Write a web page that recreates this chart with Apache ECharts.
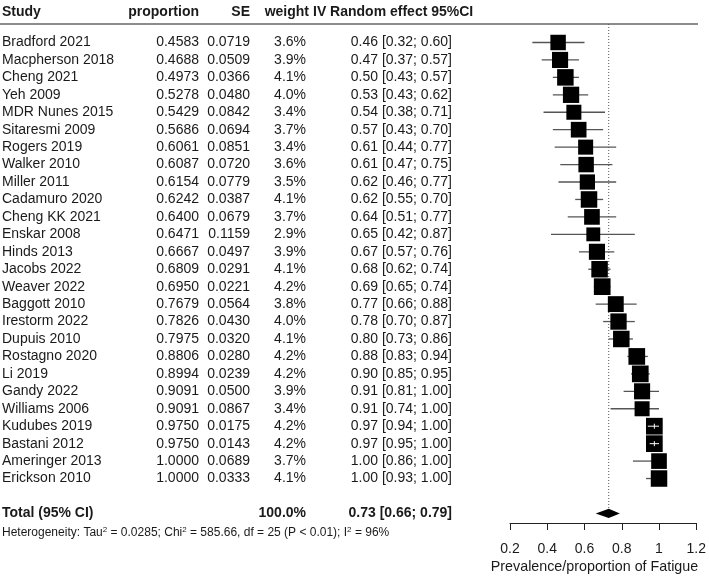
<!DOCTYPE html>
<html><head><meta charset="utf-8">
<script src="https://cdn.jsdelivr.net/npm/echarts@6/dist/echarts.min.js"></script>
<style>html,body{margin:0;padding:0;background:#fff}#c{width:709px;height:576px}</style>
</head><body><div id="c"></div>
<script>
const studies = ["Bradford 2021","Macpherson 2018","Cheng 2021","Yeh 2009","MDR Nunes 2015","Sitaresmi 2009","Rogers 2019","Walker 2010","Miller 2011","Cadamuro 2020","Cheng KK 2021","Enskar 2008","Hinds 2013","Jacobs 2022","Weaver 2022","Baggott 2010","Irestorm 2022","Dupuis 2010","Rostagno 2020","Li 2019","Gandy 2022","Williams 2006","Kudubes 2019","Bastani 2012","Ameringer 2013","Erickson 2010"];
const proportion = [0.4583,0.4688,0.4973,0.5278,0.5429,0.5686,0.6061,0.6087,0.6154,0.6242,0.6400,0.6471,0.6667,0.6809,0.6950,0.7679,0.7826,0.7975,0.8806,0.8994,0.9091,0.9091,0.9750,0.9750,1.0000,1.0000];
const se = [0.0719,0.0509,0.0366,0.0480,0.0842,0.0694,0.0851,0.0720,0.0779,0.0387,0.0679,0.1159,0.0497,0.0291,0.0221,0.0564,0.0430,0.0320,0.0280,0.0239,0.0500,0.0867,0.0175,0.0143,0.0689,0.0333];
const weight = [3.6,3.9,4.1,4.0,3.4,3.7,3.4,3.6,3.5,4.1,3.7,2.9,3.9,4.1,4.2,3.8,4.0,4.1,4.2,4.2,3.9,3.4,4.2,4.2,3.7,4.1];
const effect = [0.46,0.47,0.50,0.53,0.54,0.57,0.61,0.61,0.62,0.62,0.64,0.65,0.67,0.68,0.69,0.77,0.78,0.80,0.88,0.90,0.91,0.91,0.97,0.97,1.00,1.00];
const lower = [0.32,0.37,0.43,0.43,0.38,0.43,0.44,0.47,0.46,0.55,0.51,0.42,0.57,0.62,0.65,0.66,0.70,0.73,0.83,0.85,0.81,0.74,0.94,0.95,0.86,0.93];
const upper = [0.60,0.57,0.57,0.62,0.71,0.70,0.77,0.75,0.77,0.70,0.77,0.87,0.76,0.74,0.74,0.88,0.87,0.86,0.94,0.95,1.00,1.00,1.00,1.00,1.00,1.00];
const totalEffect = 0.73, totalLower = 0.66, totalUpper = 0.79, totalWeight = 100.0;
const xTicks = [0.2,0.4,0.6,0.8,1.0,1.2];
const headers = ["Study","proportion","SE","weight","IV Random effect 95%CI"];
const totalLabel = "Total (95% CI)";
const hetero = {tau2:"0.0285", chi2:"585.66", df:"25", p:"P < 0.01", i2:"96%"};
const axisTitle = "Prevalence/proportion of Fatigue";

const FONT = "'Liberation Sans', Arial, Helvetica, sans-serif";
const TXT = '#1a1a1a';
const ROW_TOTAL = studies.length + 1;
const ROW_HET = ROW_TOTAL + 1.09;
const ROW_HEAD = -1.72;
const COL = {study:2, prop:199, se:250, weight:306, ci:452, head:313};

const chart = echarts.init(document.getElementById('c'), null, {renderer:'canvas'});

function txt(text, x, y, align, bold, size){
  return {type:'text', style:{text:text, x:x, y:y, textAlign:align, textVerticalAlign:'middle',
    font:(bold?'bold ':'')+(size||14)+'px '+FONT, fill:TXT}};
}

const tableData = studies.map((s,i)=>[0.2, i]);
tableData.push([0.2, ROW_TOTAL]);
tableData.push([0.2, ROW_HEAD]);

const boxData = proportion.map((p,i)=>[p, i, lower[i], upper[i], weight[i]]);

const option = {
  animation:false,
  backgroundColor:'#fff',
  grid:{left:510, right:11, top:24, bottom:53},
  xAxis:{type:'value', min:0.2, max:1.2, interval:0.2, position:'bottom',
    axisLine:{show:true, onZero:false, lineStyle:{color:'#222', width:1}},
    axisTick:{show:true, length:7, inside:false, lineStyle:{color:'#222'}},
    axisLabel:{margin:19, fontSize:14, color:TXT, fontFamily:FONT,
      formatter:v=>{ const t = xTicks.find(k=>Math.abs(k-v)<1e-9); return t===undefined?'':String(+t.toFixed(1)); }},
    splitLine:{show:false}},
  yAxis:{type:'value', inverse:true, min:-1.06, max:27.55, show:false},
  graphic:[
    {type:'line', shape:{x1:0,y1:24,x2:698,y2:24}, style:{stroke:'#666', lineWidth:1.5}},
    {type:'text', style:{text:axisTitle, x:594.5, y:567, textAlign:'center', textVerticalAlign:'middle', font:'14.3px '+FONT, fill:TXT}}
  ],
  series:[
    { // dotted reference line + diamond
      type:'custom', data:[[totalEffect, ROW_TOTAL, totalLower, totalUpper]], silent:true, z:1,
      renderItem:(params, api)=>{
        const c = api.coord([api.value(0), api.value(1)]);
        const lo = api.coord([api.value(2), api.value(1)]);
        const hi = api.coord([api.value(3), api.value(1)]);
        const top = api.coord([api.value(0), -1.06]);
        const h = 4.7;
        return {type:'group', children:[
          {type:'line', shape:{x1:c[0], y1:top[1], x2:c[0], y2:c[1]-h}, style:{stroke:'#555', lineWidth:1, lineDash:[1,2]}},
          {type:'polygon', shape:{points:[[lo[0],c[1]],[c[0],c[1]-h],[hi[0],c[1]],[c[0],c[1]+h]]}, style:{fill:'#000'}}
        ]};
      }
    },
    { // study boxes + CI lines
      type:'custom', data:boxData, silent:true, z:2,
      renderItem:(params, api)=>{
        const row = api.value(1);
        const c = api.coord([api.value(0), row]);
        const lo = api.coord([api.value(2), row]);
        const hi = api.coord([api.value(3), row]);
        const s = 16.7*Math.sqrt(api.value(4)/4.2);
        const inside = lo[0] >= c[0]-s/2 && hi[0] <= c[0]+s/2;
        const ch = [
          {type:'line', shape:{x1:lo[0],y1:c[1],x2:hi[0],y2:c[1]}, style:{stroke:'#555', lineWidth:1.3}},
          {type:'rect', shape:{x:c[0]-s/2, y:c[1]-s/2, width:s, height:s}, style:{fill:'#000'}}
        ];
        if(inside){
          ch.push({type:'line', shape:{x1:lo[0],y1:c[1],x2:hi[0],y2:c[1]}, style:{stroke:'#fff', lineWidth:1}});
          ch.push({type:'line', shape:{x1:c[0],y1:c[1]-2.5,x2:c[0],y2:c[1]+2.5}, style:{stroke:'#fff', lineWidth:1}});
        }
        return {type:'group', children:ch};
      }
    },
    { // table text
      type:'custom', data:tableData, silent:true, z:3,
      renderItem:(params, api)=>{
        const i = params.dataIndex;
        const y = api.coord([0.2, api.value(1)])[1];
        if(i < studies.length){
          return {type:'group', children:[
            txt(studies[i], COL.study, y, 'left'),
            txt(proportion[i].toFixed(4), COL.prop, y, 'right'),
            txt(se[i].toFixed(4), COL.se, y, 'right'),
            txt(weight[i].toFixed(1)+'%', COL.weight, y, 'right'),
            txt(effect[i].toFixed(2)+' ['+lower[i].toFixed(2)+'; '+upper[i].toFixed(2)+']', COL.ci, y, 'right')
          ]};
        } else if(i === studies.length){
          const yh = api.coord([0.2, ROW_HET])[1];
          return {type:'group', children:[
            txt(totalLabel, COL.study, y, 'left', true),
            txt(totalWeight.toFixed(1)+'%', COL.weight, y, 'right', true),
            txt(totalEffect.toFixed(2)+' ['+totalLower.toFixed(2)+'; '+totalUpper.toFixed(2)+']', COL.ci, y, 'right', true),
            {type:'text', style:{
              text:'Heterogeneity: Tau{s|2} = '+hetero.tau2+'; Chi{s|2} = '+hetero.chi2+', df = '+hetero.df+' ('+hetero.p+'); I{s|2} = '+hetero.i2,
              x:COL.study, y:yh, textAlign:'left', textVerticalAlign:'middle', font:'12px '+FONT, fill:TXT,
              rich:{s:{fontSize:8, fontFamily:FONT, fill:TXT, verticalAlign:'top', padding:[0,0,6,0]}}
            }}
          ]};
        } else {
          return {type:'group', children:[
            txt(headers[0], COL.study, y, 'left', true),
            txt(headers[1], COL.prop, y, 'right', true),
            txt(headers[2], COL.se, y, 'right', true),
            txt(headers[3], 309, y, 'right', true),
            txt(headers[4], COL.head, y, 'left', true)
          ]};
        }
      }
    }
  ]
};
chart.setOption(option);
</script>
</body></html>
